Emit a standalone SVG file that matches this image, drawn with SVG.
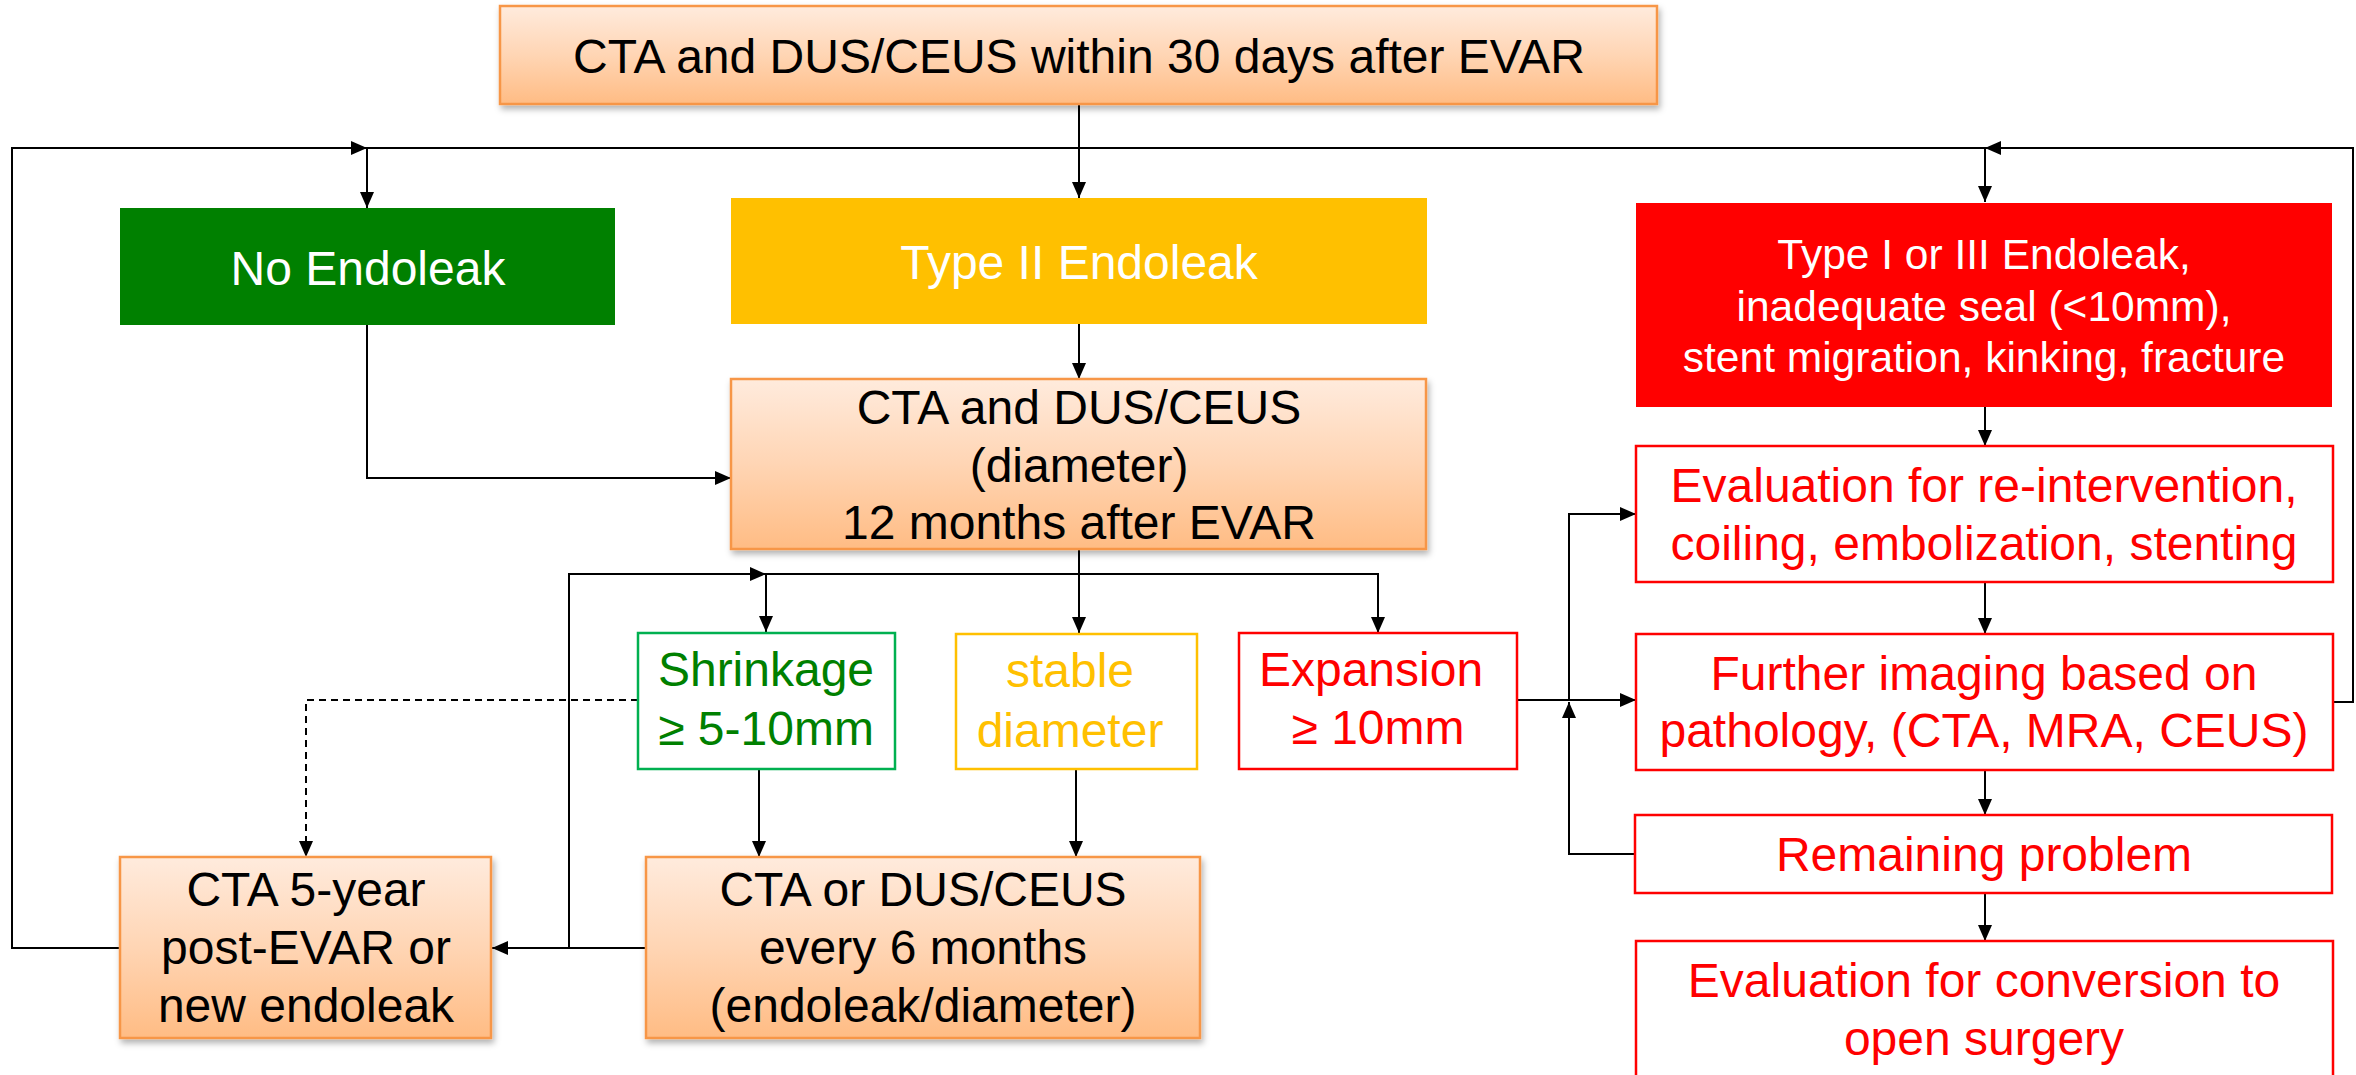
<svg xmlns="http://www.w3.org/2000/svg" width="2356" height="1075" viewBox="0 0 2356 1075">
<defs>
<linearGradient id="og" x1="0" y1="0" x2="0" y2="1">
<stop offset="0" stop-color="#FFEBDD"/>
<stop offset="0.5" stop-color="#FFD5B4"/>
<stop offset="1" stop-color="#FFBC84"/>
</linearGradient>
<filter id="sh" x="-10%" y="-10%" width="120%" height="130%">
<feDropShadow dx="2" dy="4" stdDeviation="3" flood-color="#000" flood-opacity="0.3"/>
</filter>
<marker id="ah" viewBox="0 0 16 14" refX="16" refY="7" markerWidth="16" markerHeight="14" markerUnits="userSpaceOnUse" orient="auto">
<path d="M0,0 L16,7 L0,14 z" fill="#000"/>
</marker>
</defs>
<style>
text{font-family:"Liberation Sans",Arial,sans-serif;font-size:48px;text-anchor:middle}
.orange{fill:url(#og);stroke:#F79646;stroke-width:2.5;filter:url(#sh)}
.blk{fill:#000}
.wht{fill:#fff}
.sm{font-size:42.5px}
.red{fill:#FF0000}
.redbox{fill:#fff;stroke:#FF0000;stroke-width:2.5}
.c{fill:none;stroke:#000;stroke-width:2}
.ca{fill:none;stroke:#000;stroke-width:2;marker-end:url(#ah)}
</style>
<rect width="2356" height="1075" fill="#fff"/>

<g id="connectors">
<path class="c" d="M367,148 H1985"/>
<path class="ca" d="M1079,104 V198"/>
<path class="ca" d="M120,948 H12 V148 H367"/>
<path class="ca" d="M2333,702 H2353 V148 H1985"/>
<path class="ca" d="M367,148 V208"/>
<path class="ca" d="M1985,148 V202"/>
<path class="ca" d="M367,325 V478 H731"/>
<path class="ca" d="M1079,324 V379"/>
<path class="ca" d="M1079,549 V633"/>
<path class="ca" d="M646,948 H569 V574 H766"/>
<path class="ca" d="M569,948 H492"/>
<path class="ca" d="M766,574 V632"/>
<path class="ca" d="M766,574 H1378 V633"/>
<path class="ca" d="M638,700 H306 V857" stroke-dasharray="7,5"/>
<path class="ca" d="M759,769 V857"/>
<path class="ca" d="M1076,770 V857"/>
<path class="ca" d="M1985,407 V446"/>
<path class="ca" d="M1985,582 V634"/>
<path class="ca" d="M1985,770 V815"/>
<path class="ca" d="M1985,893 V941"/>
<path class="ca" d="M1517,700 H1636"/>
<path class="ca" d="M1569,700 V514 H1636"/>
<path class="ca" d="M1636,854 H1569 V702"/>
</g>

<g id="n-top">
<rect class="orange" x="500" y="6" width="1157" height="98"/>
<text class="blk" x="1079" y="73">CTA and DUS/CEUS within 30 days after EVAR</text>
</g>

<g id="n-noendo">
<rect x="120" y="208" width="495" height="117" fill="#008000"/>
<text class="wht" x="368" y="285">No Endoleak</text>
</g>

<g id="n-type2">
<rect x="731" y="198" width="696" height="126" fill="#FFC000"/>
<text class="wht" x="1079" y="279">Type II Endoleak</text>
</g>

<g id="n-type13">
<rect x="1636" y="203" width="696" height="204" fill="#FF0000"/>
<text class="wht sm" x="1984" y="269">Type I or III Endoleak,</text>
<text class="wht sm" x="1984" y="321">inadequate seal (&lt;10mm),</text>
<text class="wht sm" x="1984" y="372">stent migration, kinking, fracture</text>
</g>

<g id="n-cta12">
<rect class="orange" x="731" y="379" width="695" height="170"/>
<text class="blk" x="1079" y="424">CTA and DUS/CEUS</text>
<text class="blk" x="1079" y="482">(diameter)</text>
<text class="blk" x="1079" y="539">12 months after EVAR</text>
</g>

<g id="n-shrink">
<rect x="638" y="633" width="257" height="136" fill="#fff" stroke="#00B050" stroke-width="2.5"/>
<text x="766" y="686" fill="#008000">Shrinkage</text>
<text x="766" y="745" fill="#008000">≥ 5-10mm</text>
</g>

<g id="n-stable">
<rect x="956" y="634" width="241" height="135" fill="#fff" stroke="#FFC000" stroke-width="2.5"/>
<text x="1070" y="687" fill="#FFC000">stable</text>
<text x="1070" y="747" fill="#FFC000">diameter</text>
</g>

<g id="n-expansion">
<rect class="redbox" x="1239" y="633" width="278" height="136"/>
<text class="red" x="1371" y="686">Expansion</text>
<text class="red" x="1378" y="744">≥ 10mm</text>
</g>

<g id="n-cta5">
<rect class="orange" x="120" y="857" width="371" height="181"/>
<text class="blk" x="306" y="906">CTA 5-year</text>
<text class="blk" x="306" y="964">post-EVAR or</text>
<text class="blk" x="306" y="1022">new endoleak</text>
</g>

<g id="n-cta6">
<rect class="orange" x="646" y="857" width="554" height="181"/>
<text class="blk" x="923" y="906">CTA or DUS/CEUS</text>
<text class="blk" x="923" y="964">every 6 months</text>
<text class="blk" x="923" y="1022">(endoleak/diameter)</text>
</g>

<g id="n-eval">
<rect class="redbox" x="1636" y="446" width="697" height="136"/>
<text class="red" x="1984" y="502">Evaluation for re-intervention,</text>
<text class="red" x="1984" y="560">coiling, embolization, stenting</text>
</g>

<g id="n-further">
<rect class="redbox" x="1636" y="634" width="697" height="136"/>
<text class="red" x="1984" y="690">Further imaging based on</text>
<text class="red" x="1984" y="747">pathology, (CTA, MRA, CEUS)</text>
</g>

<g id="n-remaining">
<rect class="redbox" x="1635" y="815" width="697" height="78"/>
<text class="red" x="1984" y="871">Remaining problem</text>
</g>

<g id="n-conversion">
<rect class="redbox" x="1636" y="941" width="697" height="150"/>
<text class="red" x="1984" y="997">Evaluation for conversion to</text>
<text class="red" x="1984" y="1055">open surgery</text>
</g>
</svg>
